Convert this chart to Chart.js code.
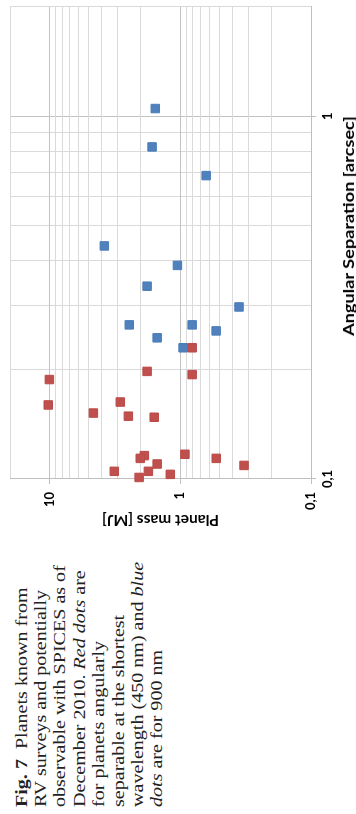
<!DOCTYPE html>
<html>
<head>
<meta charset="utf-8">
<script src="https://cdn.jsdelivr.net/npm/chart.js@4.4.1/dist/chart.umd.min.js"></script>
<style>
  html, body { margin: 0; padding: 0; background: #fff; }
  body { width: 356px; height: 814px; overflow: hidden; position: relative; }
  /* the page is laid out unrotated (814 x 356) and then turned 90deg counter-clockwise */
  #page { position: absolute; left: 0; top: 0; width: 814px; height: 356px;
          transform-origin: 0 0; transform: translate(0, 814px) rotate(-90deg); }
  #caption { position: absolute; left: 7px; top: 11.5px; white-space: nowrap;
             font-family: "Liberation Serif", "Times New Roman", serif;
             font-size: 17px; line-height: 19.4px; color: #222;
             transform-origin: 0 0; transform: scaleX(1.18); }
  #xtitle { position: absolute; left: 588px; top: 348.5px; white-space: nowrap;
            font-family: Lato, "Open Sans", sans-serif; font-weight: bold; font-size: 14.5px;
            line-height: 16px; color: #000; transform: translate(-50%, -50%) scaleX(1.25); }
  #plot { position: absolute; left: 285px; top: 0; }
</style>
</head>
<body>
<div id="page">
  <div id="caption"><b>Fig. 7</b>&nbsp; Planets known from<br>RV surveys and potentially<br>observable with SPICES as of<br>December 2010. <i>Red dots</i> are<br>for planets angularly<br>separable at the shortest<br>wavelength (450 nm) and <i>blue</i><br><i>dots</i> are for 900 nm</div>
  <canvas id="plot" width="529" height="356"></canvas>
  <div id="xtitle">Angular Separation [arcsec]</div>
</div>
<script>
// angular separation [arcsec] and planet mass [MJ]
const redSep   = [0.230, 0.198, 0.194, 0.188, 0.160, 0.163, 0.152, 0.149, 0.148, 0.117, 0.116, 0.114, 0.114, 0.110, 0.109, 0.105, 0.105, 0.103, 0.101];
const redMass  = [0.81,  1.79,  0.81,  10.0,  10.2,  2.87,  4.61,  2.49,  1.58,  0.92,  1.88,  2.02,  0.53,  1.50,  0.325, 3.19,  1.75,  1.19,  2.06];
const blueSep  = [1.05, 0.823, 0.686, 0.439, 0.388, 0.340, 0.298, 0.266, 0.266, 0.256, 0.245, 0.230];
const blueMass = [1.55, 1.64,  0.633, 3.80,  1.05,  1.79,  0.355, 2.45,  0.81,  0.531, 1.50,  0.95];

const sepTickValues  = [0.1, 1];
const sepTickLabels  = ['0,1', '1'];
const massTickValues = [0.1, 1, 10];
const massTickLabels = ['0,1', '1', '10'];

const fontFamily = 'Lato, "Open Sans", sans-serif';

function isMajor(v) {
    const l = Math.log10(v);
    return Math.abs(l - Math.round(l)) < 1e-6;
}

// 1..9 x 10^n grid between min and max, like Excel's minor gridlines
function logGrid(min, max) {
    const out = [];
    for (let e = Math.floor(Math.log10(min)); e <= Math.ceil(Math.log10(max)); e++) {
        for (let k = 1; k < 10; k++) {
            const v = +(k * Math.pow(10, e)).toPrecision(6);
            if (v >= min - 1e-9 && v <= max + 1e-9) out.push(v);
        }
    }
    return out;
}

function labelFor(values, labels) {
    return function(value) {
        const i = values.findIndex(v => Math.abs(v - value) < 1e-9);
        return i >= 0 ? labels[i] : '';
    };
}

function pointsOf(xs, ys) {
    return xs.map((x, i) => ({ x: x, y: ys[i] }));
}

const gridColor = c => (c.tick && isMajor(c.tick.value)) ? '#c2c2c2' : '#dadada';
const tickColor = c => (c.tick && isMajor(c.tick.value)) ? '#bfbfbf' : 'rgba(0,0,0,0)';

const markerStyle = { pointStyle: 'rect', pointRadius: 6, pointHoverRadius: 6, borderWidth: 1, clip: false };

new Chart(document.getElementById('plot'), {
    type: 'scatter',
    data: {
        datasets: [
            Object.assign({ label: '450 nm', data: pointsOf(redSep, redMass),
                backgroundColor: '#C0504D', borderColor: '#BA4B48' }, markerStyle),
            Object.assign({ label: '900 nm', data: pointsOf(blueSep, blueMass),
                backgroundColor: '#4F81BD', borderColor: '#4A7CB8' }, markerStyle)
        ]
    },
    options: {
        responsive: false,
        animation: false,
        layout: { padding: { top: 10, right: 3, bottom: 0, left: 0 } },
        plugins: { legend: { display: false }, tooltip: { enabled: false } },
        scales: {
            x: {
                type: 'logarithmic', position: 'bottom', min: 0.1, max: 2,
                afterBuildTicks: s => { s.ticks = logGrid(0.1, 2).map(v => ({ value: v })); },
                afterFit: s => { s.height = 45; s.paddingLeft = 0; s.paddingRight = 0; },
                grid: { color: gridColor, tickColor: tickColor, tickLength: 5 },
                border: { color: '#bfbfbf' },
                ticks: { autoSkip: false, maxRotation: 0, minRotation: 0, padding: 4, color: '#000',
                         font: { family: fontFamily, size: 13, weight: 'bold' },
                         callback: labelFor(sepTickValues, sepTickLabels) }
            },
            y: {
                type: 'logarithmic', position: 'left', min: 0.1, max: 20,
                afterBuildTicks: s => { s.ticks = logGrid(0.1, 20).map(v => ({ value: v })); },
                afterFit: s => { s.width = 50; s.paddingTop = 0; s.paddingBottom = 0; },
                grid: { color: gridColor, tickColor: tickColor, tickLength: 5 },
                border: { color: '#bfbfbf' },
                ticks: { autoSkip: false, padding: 8, color: '#000',
                         font: { family: fontFamily, size: 13, weight: 'bold' },
                         callback: labelFor(massTickValues, massTickLabels) },
                title: { display: true, text: 'Planet mass [MJ]', color: '#000', padding: 0,
                         font: { family: fontFamily, size: 15.5, weight: 'bold' } }
            }
        }
    }
});
</script>
</body>
</html>
